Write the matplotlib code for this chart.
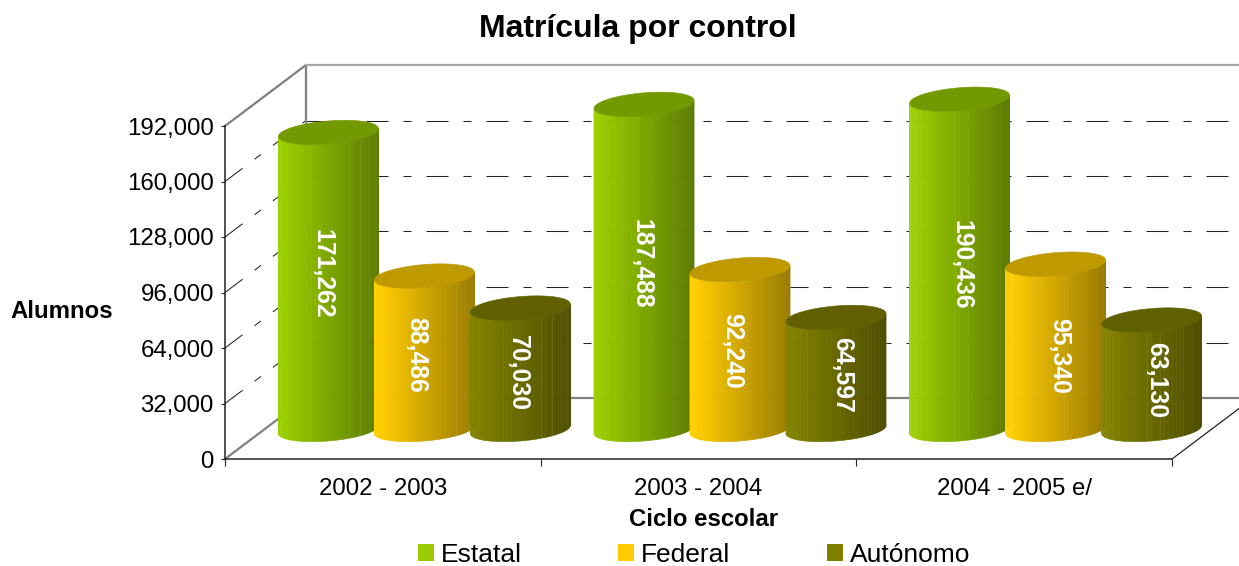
# Matricula por control, cilindros con perspectiva dibujados a mano
import matplotlib
matplotlib.use("Agg")
import matplotlib.pyplot as plt
import numpy as np
from matplotlib.patches import Patch

plt.rcParams['font.family'] = ['Liberation Sans', 'DejaVu Sans']
plt.rcParams['lines.scale_dashes'] = False

# Data
ciclos = ['2002 - 2003', '2003 - 2004', '2004 - 2005 e/']
series = ['Estatal', 'Federal', 'Autónomo']
estatal = [171262, 187488, 190436]
federal = [88486, 92240, 95340]
autonomo = [70030, 64597, 63130]
y_ticks = [0, 32000, 64000, 96000, 128000, 160000, 192000]
colors = ['#99CC00', '#FFCC00', '#808000']

# small nudges of the value labels, in pixels
label_dx = [[-6, -8, -2], [-2, -8, 6], [2, 3, 4]]
label_dy = [[-10, -1, 1], [-6, -2, -2], [-3, 6, 2]]

W, H = 1239, 566
fig = plt.figure(figsize=(W / 100, H / 100), dpi=100)
ax = fig.add_axes([225 / W, 1 - 459 / H, 947 / W, 333 / H])
ax.set_xlim(0, 3)
ax.set_ylim(0, 192000)

# data units per pixel
xu = 3 / 947
yu = 192000 / 333
depth_x = 81 * xu
depth_y = 61 * yu


def px(n):
    return n * 0.72


# Back wall and floor
grid_dash = (0, (px(22), px(15), px(8), px(15)))
frame_grey = '#808080'
for tick in y_ticks[1:-1]:
    ax.plot([0, depth_x], [tick, tick + depth_y], color='#222222', lw=0.75,
            ls=grid_dash, clip_on=False, zorder=1)
    ax.plot([depth_x, 3.3], [tick + depth_y] * 2, color='#222222', lw=0.75,
            ls=grid_dash, clip_on=False, zorder=1)
top = y_ticks[-1]
ax.plot([0, depth_x, depth_x], [top, top + depth_y, depth_y], color=frame_grey,
        lw=1.6, clip_on=False, zorder=1)
ax.plot([depth_x, 3.3], [top + depth_y] * 2, color='#A6A6A6', lw=1.6, clip_on=False, zorder=1)
ax.plot([0, depth_x, 3.3], [0, depth_y, depth_y], color=frame_grey, lw=1.6,
        clip_on=False, zorder=1)
ax.plot([3, 3 + depth_x], [0, depth_y], color='#222222', lw=0.9, clip_on=False, zorder=1)


def shade(color, f):
    rgb = np.array(matplotlib.colors.to_rgb(color))
    return tuple(np.clip(rgb * f, 0, 1))


def cylinder(center, value, color, z):
    a = 50
    b = 11.5
    tilt = 0.08
    y0 = depth_y / 2 - 1 * yu
    theta = np.linspace(np.pi, 0, 37)
    xs = a * np.cos(theta)
    ys = b * np.sin(theta) - tilt * xs
    for i in range(len(theta) - 1):
        f = 1.03 - 0.43 * (xs[i] + xs[i + 1] + 2 * a) / (4 * a)
        strip_x = center + np.array([xs[i], xs[i + 1], xs[i + 1], xs[i]]) * xu
        strip_y = np.array([y0 + value - ys[i] * yu, y0 + value - ys[i + 1] * yu,
                            y0 - ys[i + 1] * yu, y0 - ys[i] * yu])
        ax.fill(strip_x, strip_y, color=shade(color, f), lw=0.4, clip_on=False, zorder=z)
        if i % 3 == 1:
            ax.plot([center + xs[i + 1] * xu] * 2,
                    [y0 + value - ys[i + 1] * yu, y0 - ys[i + 1] * yu],
                    color='white', alpha=0.35, lw=0.8, clip_on=False, zorder=z)
    t = np.linspace(0, 2 * np.pi, 120)
    ex = a * np.cos(t)
    ey = b * np.sin(t) - tilt * ex
    ax.fill(center + ex * xu, y0 + value - ey * yu, color=shade(color, 0.75), lw=0.4,
            clip_on=False, zorder=z + 0.1)


# Cylinders, left to right so that each covers the previous one
values = [estatal, federal, autonomo]
step = 96 * xu
for g in range(len(ciclos)):
    for s in range(len(series)):
        center = g + 0.5 + depth_x / 2 + (s - 1) * step + 1 * xu
        val = values[s][g]
        z = 3 + g * 3 + s
        cylinder(center, val, colors[s], z)
        ax.text(center + label_dx[g][s] * xu, depth_y / 2 + val / 2 - (4 + label_dy[g][s]) * yu,
                f'{val:,}', rotation=-90, ha='center', va='center', color='white', fontsize=17.8,
                fontweight='bold', clip_on=False, zorder=20)

# Axes
for side in ['top', 'right']:
    ax.spines[side].set_visible(False)
for side in ['left', 'bottom']:
    ax.spines[side].set_linewidth(1.1)
    ax.spines[side].set_color('#222222')
ax.patch.set_alpha(0)
ax.set_yticks(y_ticks)
ax.set_yticklabels([f'{t:,}' for t in y_ticks], fontsize=17.3)
ax.tick_params(axis='y', length=3, width=0.8, pad=5, color='#222222')
ax.set_xticks([0, 1, 2, 3])
ax.set_xticklabels([])
ax.set_xticks([0.5, 1.5, 2.5], minor=True)
ax.set_xticklabels(ciclos, minor=True, fontsize=17.3)
ax.tick_params(axis='x', which='major', length=5, width=0.8, color='#222222')
ax.tick_params(axis='x', which='minor', length=0, pad=14)

ax.set_xlabel('Ciclo escolar', fontsize=17.3, fontweight='bold')
ax.xaxis.set_label_coords((704 - 225) / 947, -49 / 333)
ax.set_ylabel('Alumnos', fontsize=17.3, fontweight='bold', rotation=0, ha='center', va='center')
ax.yaxis.set_label_coords((62 - 225) / 947, (459 - 312) / 333)

fig.suptitle('Matrícula por control', x=638 / W, y=1 - 29 / H, fontsize=23, fontweight='bold',
             va='center')

handles = [Patch(facecolor=c, label=n) for c, n in zip(colors, series)]
fig.legend(handles=handles, ncol=3, loc='center', bbox_to_anchor=(694 / W, 1 - 555 / H),
           fontsize=19, frameon=False, columnspacing=3.65, handlelength=0.6,
           handleheight=0.6, handletextpad=0.27, borderpad=0, borderaxespad=0)

fig.savefig('out.png', dpi=100)
